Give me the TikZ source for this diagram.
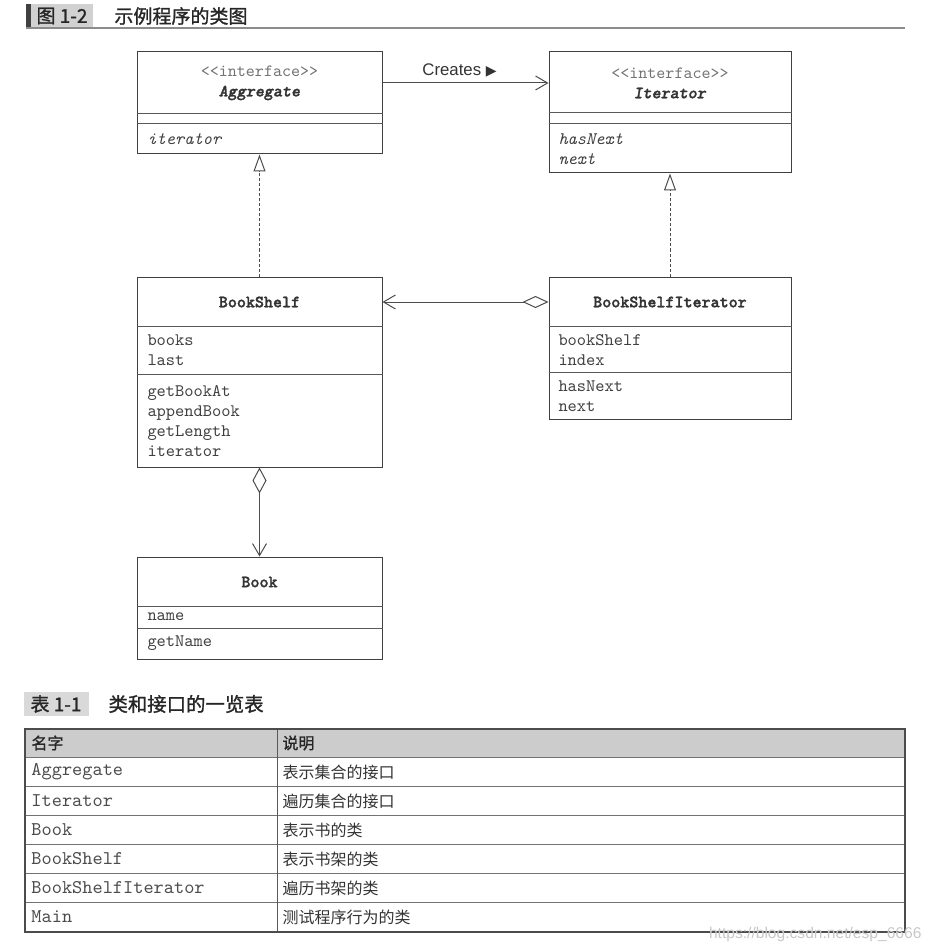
\documentclass[tikz,border=0pt]{standalone}
\usepackage{fontspec}
\setmonofont{lmmono10-regular.otf}[BoldFont=lmmonolt10-bold.otf,BoldFeatures={FakeBold=1.5},ItalicFont=lmmono10-italic.otf,BoldItalicFont=lmmonolt10-boldoblique.otf,BoldItalicFeatures={FakeBold=1.5}]
\newfontfamily\cjk{Noto Sans CJK SC}
\newfontfamily\cjkbold{Noto Sans CJK SC}[FakeBold=1.2]
\newfontfamily\arial{Liberation Sans}
\newfontfamily\dejavu{DejaVu Sans}
\usetikzlibrary{arrows.meta,fit}

\begin{document}
\begin{tikzpicture}[x=0.5pt,y=-0.5pt,line width=0.5pt,>={Straight Barb[length=6pt,width=7pt]},
  umlbox/.style={draw=black!75,inner sep=0pt},
  compart/.style={draw=black!65},
  umltext/.style={inner sep=0pt,text=black!75,font=\ttfamily\fontsize{8.8}{10}\selectfont},
  member/.style={umltext,anchor=west,align=left},
  classname/.style={umltext,text=black!80,font=\ttfamily\bfseries\fontsize{8.6}{10}\selectfont,align=center},
  realize/.style={draw=black!70,dash pattern=on 1.5pt off 1pt,-{Triangle[open,length=8.5pt,width=6pt]}},
  aggreg/.style={draw=black!70,{Diamond[open,length=13pt,width=#1]}->},
  assoc/.style={draw=black!70,->},
  cjktext/.style={inner sep=0pt,text=black!85,font=\cjk\fontsize{#1}{#1}\selectfont},
  cjkhead/.style={inner sep=0pt,text=black!85,font=\cjkbold\fontsize{#1}{#1}\selectfont},
  cell/.style={inner sep=0pt,anchor=west,text=black!70,font=\ttfamily\fontsize{9.7}{10}\selectfont}]
\useasboundingbox (0,0) rectangle (931,952);
% ---- figure heading ----
\fill[black!75] (26,4) rectangle (31,28);
\fill[black!18] (31,4) rectangle (93,28);
\node[cjkhead=9.5] (figno) at (62,16) {图 1-2};
\node[cjkhead=9.5,anchor=west] (figtitle) at (114,16) {示例程序的类图};
\draw[black!45,line width=0.8pt] (26,28) -- (905,28);
% ---- class boxes ----
\node[umlbox,fit={(137,52) (382,154)}] (agg) {};
\node[umlbox,fit={(549,52) (791,173)}] (itr) {};
\node[umlbox,fit={(137,277) (382,467)}] (bs) {};
\node[umlbox,fit={(549,277) (791,419)}] (bsi) {};
\node[umlbox,fit={(137,557) (382,659)}] (book) {};
\foreach \n/\ya/\yb in {agg/114/124,itr/113/124,bs/326/374,bsi/326/372,book/606/628}{
  \draw[compart] (\n.west |- 0,\ya) -- (\n.east |- 0,\ya);
  \draw[compart] (\n.west |- 0,\yb) -- (\n.east |- 0,\yb);}
% headers
\node[classname] (agghead) at (259.5,83) {{\mdseries\color{black!55}<<interface>>}\\\textit{Aggregate}};
\node[classname] (itrhead) at (670,83) {{\mdseries\color{black!55}<<interface>>}\\\textit{Iterator}};
\node[classname] (bsname) at (259.5,302) {BookShelf};
\node[classname] (bsiname) at (670,302) {BookShelfIterator};
\node[classname] (bookname) at (259.5,582) {Book};
% members
\node[member,font=\ttfamily\itshape\fontsize{8.8}{10}\selectfont] (aggops) at (147,139) {iterator};
\node[member,font=\ttfamily\itshape\fontsize{8.8}{10}\selectfont] (itrops) at (558,149.5) {hasNext\\next};
\node[member] (bsattr) at (147,350) {books\\last};
\node[member] (bsops) at (147,421.5) {getBookAt\\appendBook\\getLength\\iterator};
\node[member] (bsiattr) at (558,350) {bookShelf\\index};
\node[member] (bsiops) at (558,396) {hasNext\\next};
\node[member] (bookattr) at (147,617) {name};
\node[member] (bookops) at (147,643) {getName};
% ---- relations ----
\draw[assoc] (agghead -| agg.east) -- node[above=2.5pt,inner sep=0pt,text=black!80,font=\arial\fontsize{8.4}{10}\selectfont,xshift=-3pt] (creates) {Creates {\dejavu\fontsize{7}{8}\selectfont ▶}} (agghead -| itr.west);
\draw[realize] (bs.north) -- (agg.south);
\draw[realize] (bsi.north) -- (itr.south);
\draw[aggreg=6pt] (bsiname -| bsi.west) -- (bsname -| bs.east);
\draw[aggreg=7pt] (bs.south) -- (book.north);
% ---- table heading ----
\fill[black!15] (24,692) rectangle (89,716);
\node[cjkhead=9.5] (tabno) at (56,704) {表 1-1};
\node[cjkhead=9.7,anchor=west] (tabtitle) at (108,704) {类和接口的一览表};
% ---- table ----
\fill[black!20] (25,729) rectangle (905,757);
\foreach \y in {757,786,815,844,873,902}
  \draw[black!55] (25,\y) -- (905,\y);
\draw[black!65] (277,729) -- (277,932);
\draw[black!70,line width=0.8pt] (25,729) rectangle (905,932);
\node[cjkhead=8,anchor=west] (colname) at (31,743) {名字};
\node[cjkhead=8,anchor=west] (coldesc) at (282,743) {说明};
\foreach \name/\desc [count=\i] in {Aggregate/表示集合的接口,Iterator/遍历集合的接口,Book/表示书的类,BookShelf/表示书架的类,BookShelfIterator/遍历书架的类,Main/测试程序行为的类}{
  \node[cell] (name\i) at (31,{743+29*\i}) {\name};
  \node[cjktext=8,anchor=west,text=black!80] (desc\i) at (282,{743+29*\i}) {\desc};}
\node[anchor=east,inner sep=0pt,text=black!22,font=\arial\fontsize{7.8}{8}\selectfont] (mark) at (922,934) {https://blog.csdn.net/esp\_6666};
\end{tikzpicture}
\end{document}
